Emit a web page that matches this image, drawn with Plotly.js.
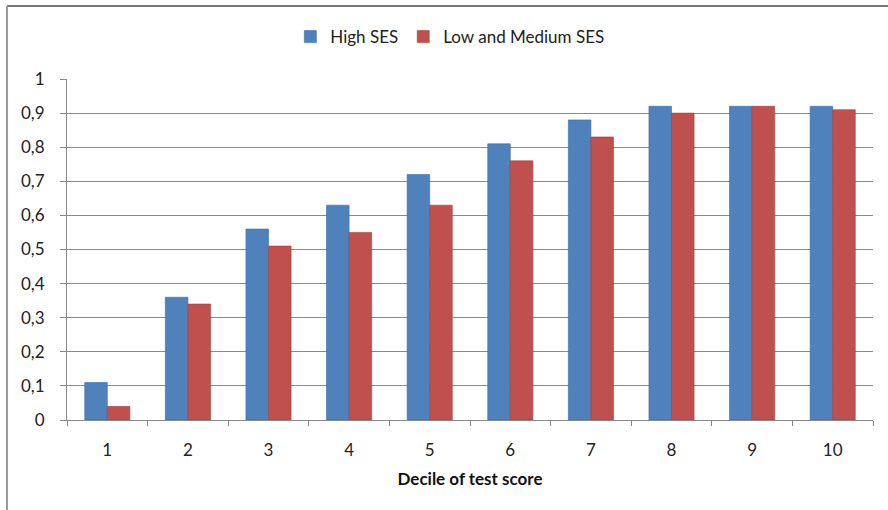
<!DOCTYPE html>
<html>
<head>
<meta charset="utf-8">
<script src="https://cdn.plot.ly/plotly-3.0.1.min.js"></script>
<style>html,body{margin:0;padding:0;background:#fff;}#chart{width:888px;height:510px;}</style>
</head>
<body>
<div id="chart"></div>
<script>
var deciles = ['1','2','3','4','5','6','7','8','9','10'];
var highSES = [0.11, 0.36, 0.56, 0.63, 0.72, 0.81, 0.88, 0.92, 0.92, 0.92];
var lowMedSES = [0.04, 0.34, 0.51, 0.55, 0.63, 0.76, 0.83, 0.90, 0.92, 0.91];
var seriesNames = ['High SES', 'Low and Medium SES'];
var yTicks = [0, 0.1, 0.2, 0.3, 0.4, 0.5, 0.6, 0.7, 0.8, 0.9, 1];

var font = 'Lato, Open Sans, sans-serif';
var traces = [
  {type:'bar', name:seriesNames[0], x:deciles, y:highSES,
   marker:{color:'#4F81BD', line:{color:'#3A6BA5', width:0.6}}},
  {type:'bar', name:seriesNames[1], x:deciles, y:lowMedSES,
   marker:{color:'#C0504D', line:{color:'#A33E3B', width:0.6}}}
];
var layout = {
  width:888, height:510,
  margin:{l:67, r:15, t:79, b:90},
  paper_bgcolor:'#fff', plot_bgcolor:'#fff',
  separators:',.',
  barmode:'group', bargap:0.44, bargroupgap:0,
  font:{family:font, color:'#222', size:17},
  showlegend:true,
  legend:{orientation:'h', x:0.475, xanchor:'center', y:1.123, yanchor:'middle',
          font:{family:font, size:17, color:'#222'}, itemwidth:30, traceorder:'normal'},
  xaxis:{type:'category', showgrid:false, showline:true, linecolor:'#888', linewidth:1,
         ticks:'outside', tickson:'boundaries', ticklen:5, tickcolor:'#888',
         tickfont:{family:font, size:17, color:'#222'}, ticklabelstandoff:15,
         title:{text:'<b>Decile of test score</b>', font:{family:font, size:17, color:'#111'}, standoff:13},
         zeroline:false},
  yaxis:{range:[0,1], tickvals:yTicks, showgrid:true, gridcolor:'#8a8a8a', gridwidth:1,
         showline:true, linecolor:'#888', linewidth:1, ticks:'outside', ticklen:6, tickcolor:'#888',
         tickfont:{family:font, size:17, color:'#222'}, ticklabelstandoff:12, zeroline:false},
  shapes:[
    {type:'line', xref:'paper', yref:'paper', x0:-0.0744, x1:1.02, y0:1.214, y1:1.214,
     line:{color:'#777', width:2}},
    {type:'line', xref:'paper', yref:'paper', x0:-0.0744, x1:-0.0744, y0:1.214, y1:-0.27,
     line:{color:'#999', width:2}}
  ]
};
Plotly.newPlot('chart', traces, layout, {displayModeBar:false, staticPlot:true});
</script>
</body>
</html>
